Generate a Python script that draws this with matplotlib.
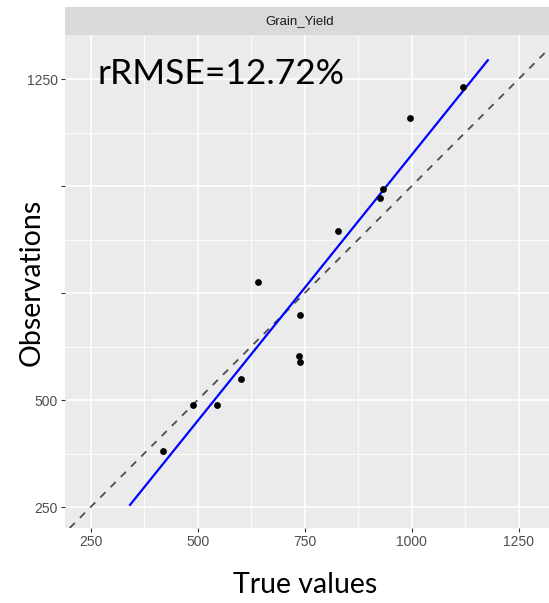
import matplotlib
matplotlib.use("Agg")
import matplotlib.pyplot as plt
from matplotlib.patches import Rectangle
import numpy as np

# Data
true_values = [419, 489, 545, 601, 642, 739, 737, 740, 828, 925, 934, 996, 1121]
observations = [381, 488, 488, 550, 776, 698, 604, 588, 895, 972, 994, 1160, 1232]
fit_x = [342, 1178]
fit_y = [255, 1294]
ticks = [250, 500, 750, 1000, 1250]
tick_labels = ["250", "500", "750", "1000", "1250"]
panel_title = "Grain_Yield"
stat_text = "rRMSE=12.72%"

W, H = 549, 603
fig = plt.figure(figsize=(W / 100, H / 100), dpi=100)
fig.patch.set_facecolor("white")

left, right = 65 / W, 1.0
bottom, top = 1 - 528 / H, 1 - 35 / H
ax = fig.add_axes([left, bottom, right - left, top - bottom])
ax.set_facecolor("#EBEBEB")
ax.set_xlim(190, 1321)
ax.set_ylim(201, 1353)

# grid
minor = [125, 375, 625, 875, 1125, 1375]
for v in minor:
    ax.axvline(v, color="white", lw=0.6, zorder=0.5)
    ax.axhline(v, color="white", lw=0.6, zorder=0.5)
for v in ticks:
    ax.axvline(v, color="white", lw=1.2, zorder=0.6)
    ax.axhline(v, color="white", lw=1.2, zorder=0.6)

# identity line
ax.axline((0, 0), slope=1, color="#4D4D4D", lw=1.3, ls=(0, (4, 4)), zorder=2)
# fitted line
ax.plot(fit_x, fit_y, color="#0000FF", lw=1.6, zorder=3)
# points
ax.scatter(true_values, observations, s=24, color="black", zorder=4, linewidths=0)

ax.set_xticks(ticks)
ax.set_xticklabels(tick_labels, family="Liberation Sans")
ax.set_yticks(ticks)
ax.set_yticklabels(tick_labels, family="Liberation Sans")
ax.tick_params(axis="both", colors="#333333", length=3, width=0.8,
               labelsize=10, labelcolor="#4D4D4D", pad=2)
for s in ax.spines.values():
    s.set_visible(False)

# strip
strip_top = 1 - 7 / H
sax = fig.add_axes([left, top, right - left, strip_top - top])
sax.set_facecolor("#D9D9D9")
sax.set_xticks([])
sax.set_yticks([])
for s in sax.spines.values():
    s.set_visible(False)
sax.text((300 - 65) / (W - 65), 0.5, panel_title, ha="center", va="center",
         fontsize=9.5, family="Liberation Sans", color="#1A1A1A",
         transform=sax.transAxes)

# stat annotation
ax.text(98 / W, 1 - 74 / H, stat_text, transform=fig.transFigure,
        fontsize=25.5, family="Lato", color="black", ha="left", va="center")

# white box covering part of y tick labels (as in reference)
fig.patches.append(Rectangle((0, 1 - 335 / H), 58 / W, (335 - 170) / H,
                             transform=fig.transFigure, facecolor="white",
                             edgecolor="none", zorder=5))

fig.text(32 / W, 1 - 282 / H, "Observations", rotation=90, ha="center", va="center",
         fontsize=20.5, family="Lato", color="black", zorder=6)
fig.text(305 / W, 1 - 585 / H, "True values", ha="center", va="center",
         fontsize=20.5, family="Lato", color="black")

fig.savefig("out.png", dpi=100)
